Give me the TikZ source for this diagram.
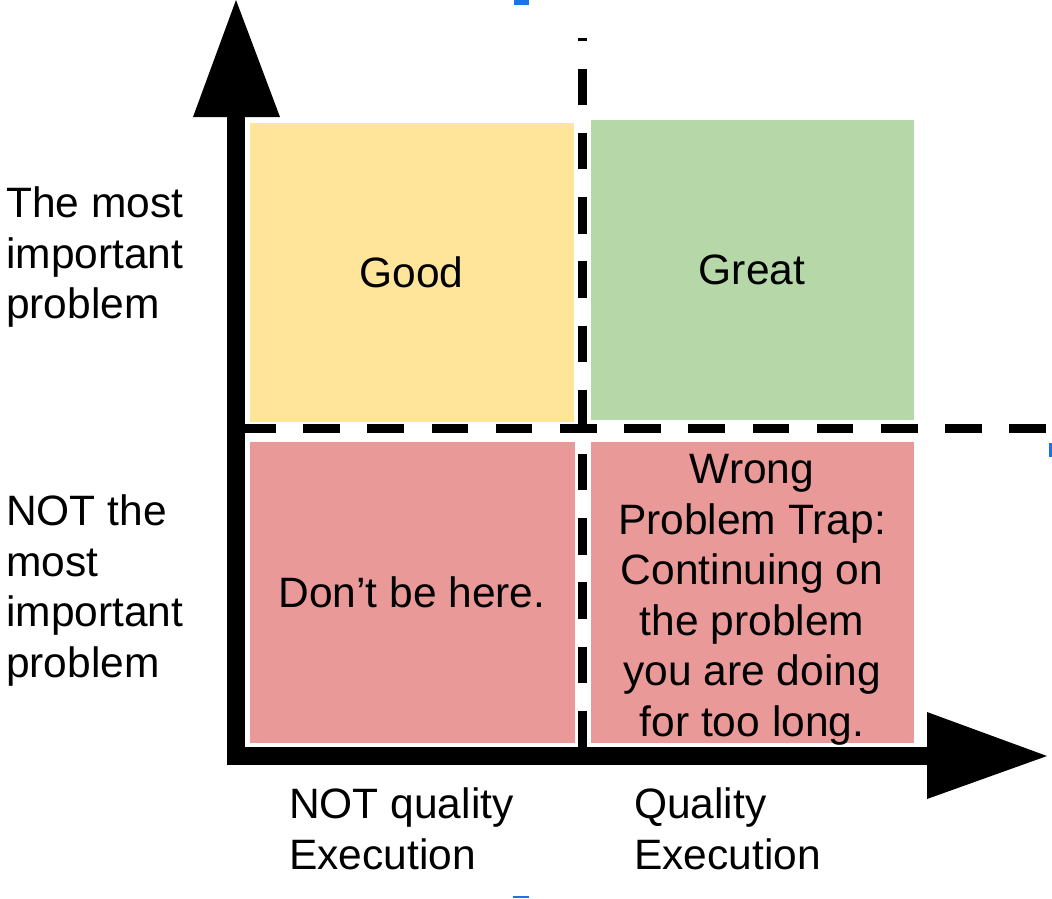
\documentclass[tikz,border=0pt]{standalone}
\usepackage{fontspec}
\setmainfont{Liberation Sans}
\definecolor{goodyellow}{HTML}{FFE599}
\definecolor{greatgreen}{HTML}{B6D7A8}
\definecolor{badred}{HTML}{EA9999}
\definecolor{handleblue}{HTML}{1A73E8}
\tikzset{
    quadrant/.style={draw=white, line width=1pt, inner sep=0pt, align=center,
        font=\fontsize{42.5}{50.6}\selectfont},
    quadranttext/.style={inner sep=0pt, align=center, font=\fontsize{42.5}{50.6}\selectfont},
    axisbar/.style={line width=18pt},
    divider/.style={line width=9pt, dash pattern=on 36.5pt off 27.7pt},
    sidelabel/.style={inner sep=0pt, align=left, font=\fontsize{42.5}{50.6}\selectfont},
}
\begin{document}
\begin{tikzpicture}[x=1pt, y=-1pt]
                \useasboundingbox (0,0) rectangle (1052,898);

                \node[quadrant, fill=goodyellow, minimum width=325pt, minimum height=300pt] (good) at (411.5,272) {Good};

                \node[quadrant, fill=greatgreen, minimum width=324pt, minimum height=301pt] (great) at (752,269.5) {Great};

                \node[quadrant, fill=badred, minimum width=326pt, minimum height=302pt] (here) at (412,592) {Don’t be here.};

                \node[quadrant, fill=badred, minimum width=324pt, minimum height=302pt] (trap) at (752,592) {};

                \node[quadranttext, anchor=north] (traptext) at (752,454) {Wrong\\Problem Trap:\\Continuing on\\the problem\\you are doing\\for too long.};

                \draw[divider, dash phase=33.5pt] (582,38) -- (582,747);

                \draw[divider] (239,428.5) -- (1046,428.5);

                \draw[axisbar] (236,765) -- (236,117);

                \fill (236,0) -- (280,117) -- (193,117) -- cycle;

                \draw[axisbar] (227,756) -- (927,756);

                \fill (1047,756) -- (927,799) -- (927,712) -- cycle;

                \node[sidelabel, anchor=north west] (important) at (6,186.5) {The most\\important\\problem};

                \node[sidelabel, anchor=north west] (notimportant) at (6,494.5) {NOT the\\most\\important\\problem};

                \node[sidelabel, anchor=north west] (notquality) at (289,787.5) {NOT quality\\Execution};

                \node[sidelabel, anchor=north west] (quality) at (634,787.5) {Quality\\Execution};

                \fill[handleblue] (514,0) rectangle (529,5);

                \fill[handleblue] (1049,443) rectangle (1052,457);

                \fill[handleblue] (513,896) rectangle (529,898);
            \end{tikzpicture}
\end{document}
